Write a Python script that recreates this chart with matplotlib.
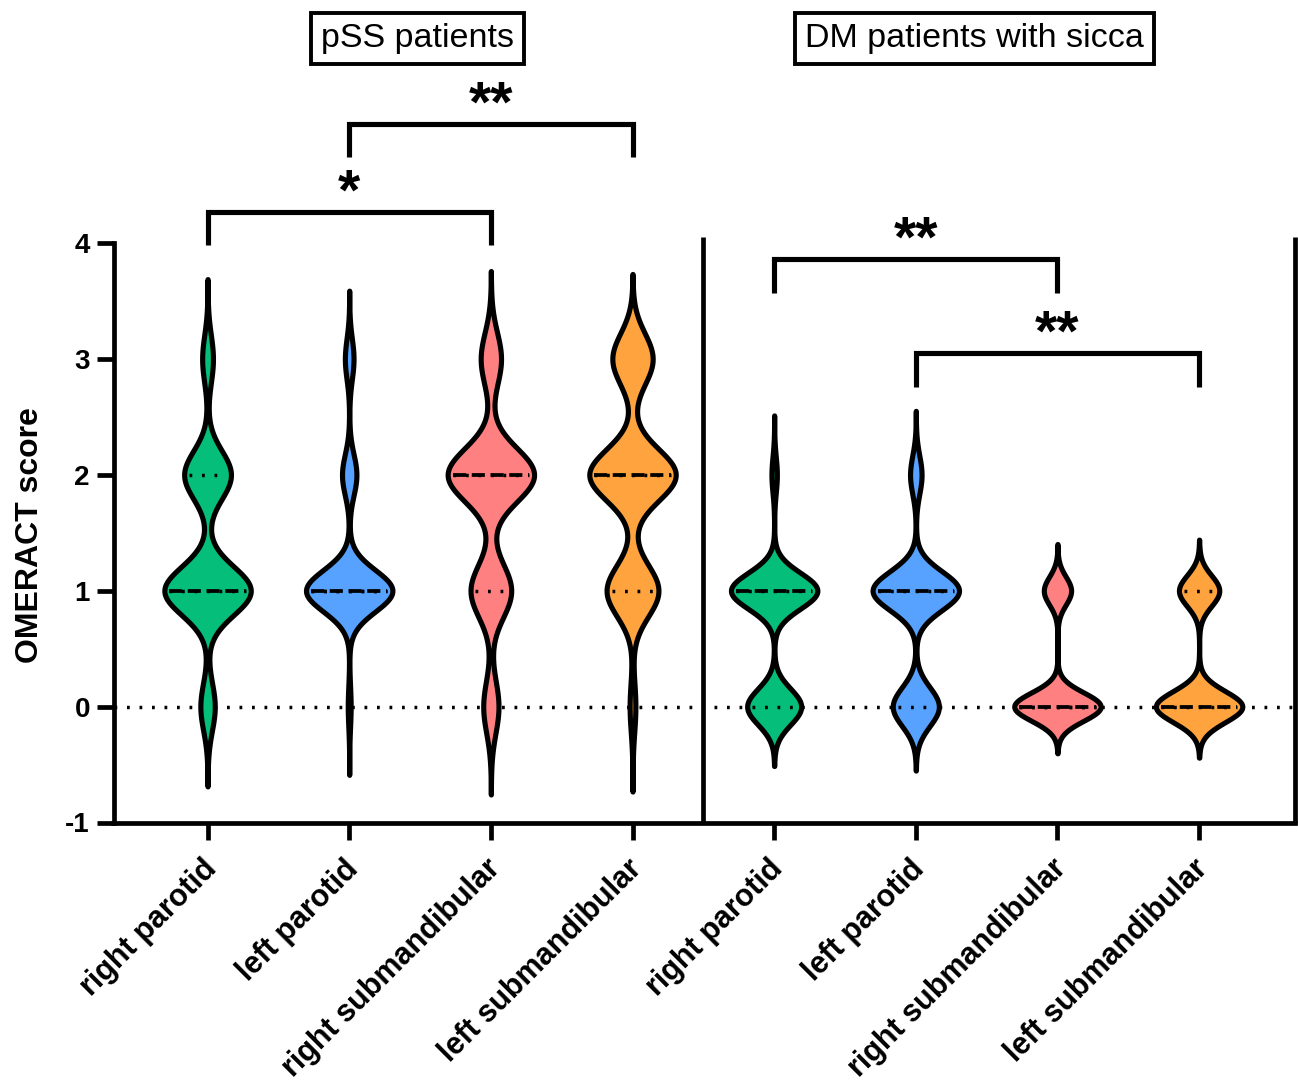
import numpy as np
import matplotlib
matplotlib.use('Agg')
import matplotlib.pyplot as plt
import matplotlib.transforms as mtransforms
from matplotlib import mlab

plt.rcParams['font.family'] = ['Liberation Sans', 'DejaVu Sans']
plt.rcParams['axes.unicode_minus'] = False

# OMERACT scores and the number of glands scored 0/1/2/3 in each group
scores = [0, 1, 2, 3]
glands = ['right parotid', 'left parotid', 'right submandibular', 'left submandibular']
pss_counts = [[4, 24, 13, 3],
              [1, 30, 5, 3],
              [3, 8, 17, 4],
              [1, 9, 15, 7]]
dm_counts = [[10, 16, 1, 0],
             [8, 15, 2, 0],
             [19, 6, 0, 0],
             [15, 7, 0, 0]]
colors = ['#04BE79', '#56A2FE', '#FE8081', '#FEA33E']
groups = ['pSS patients', 'DM patients with sicca']
# significance: (first gland, second gland, label)
sig_pairs = [(0, 2, '*'), (1, 3, '**'), (4, 6, '**'), (5, 7, '**')]

W = 1298
H = 1081
fig = plt.figure(figsize=(W / 100, H / 100), dpi=100)
ax = fig.add_axes([113.5 / W, 1 - 822.5 / H, (1295 - 113.5) / W, (822.5 - 243) / H])

all_counts = pss_counts + dm_counts
half = 0.305
bw = 0.28
stats = []
for c in all_counts:
    vals = np.repeat(scores, c).astype(float)
    kde = mlab.GaussianKDE(vals, bw_method=bw)
    h = bw * vals.std(ddof=1)
    coords = np.linspace(vals.min() - 3.3 * h, vals.max() + 3.3 * h, 600)
    stats.append(dict(coords=coords, vals=kde.evaluate(coords), mean=vals.mean(),
                      median=np.median(vals), min=vals.min(), max=vals.max(),
                      q=np.percentile(vals, [25, 50, 75])))

pos = np.arange(len(all_counts))
ax.axhline(0, color='black', lw=2.5, ls=(0, (0.8, 2.8)), zorder=0.5)
parts = ax.violin(stats, positions=pos, widths=2 * half, showmeans=False,
                  showextrema=False, showmedians=False)
for i, body in enumerate(parts['bodies']):
    body.set_facecolor(colors[i % 4])
    body.set_edgecolor('black')
    body.set_linewidth(3.7)
    body.set_alpha(1)
    body.set_zorder(2)

for p, s in zip(pos, stats):
    peak = s['vals'].max()
    q1, med, q3 = s['q']
    for qv in (q1, q3):
        w = np.interp(qv, s['coords'], s['vals']) / peak * half - 0.035
        ax.plot([p - w, p + w], [qv, qv], color='black', lw=2.5,
                ls=(0, (0.8, 2.8)), zorder=3)
    w = np.interp(med, s['coords'], s['vals']) / peak * half - 0.035
    ax.plot([p - w, p + w], [med, med], color='black', lw=2.7,
            ls=(0, (3.5, 1.5)), zorder=3)

# panel separators
for xv in (3.5, 7.677):
    ax.plot([xv, xv], [-1, 4.05], color='black', lw=3.4, clip_on=False,
            solid_capstyle='butt', zorder=4)

# significance brackets
levels = [4.27, 5.03, 3.86, 3.05]
for (a, b, lab), lv in zip(sig_pairs, levels):
    ax.plot([a, a, b, b], [lv - 0.29, lv, lv, lv - 0.29], color='black', lw=3.7,
            clip_on=False, solid_joinstyle='miter', solid_capstyle='butt')
    ax.text((a + b) / 2, lv + 0.02, lab, ha='center', va='baseline',
            fontsize=41, fontweight='bold', clip_on=False)

ax.set_xlim(-0.664, 7.677)
ax.set_ylim(-1, 4)
ax.set_yticks([-1, 0, 1, 2, 3, 4])
ax.set_xticks(pos)
ax.set_xticklabels(glands * 2, rotation=45, ha='right', va='top',
                   rotation_mode='anchor', fontsize=22, fontweight='bold')
for lab in ax.get_yticklabels():
    lab.set_fontweight('bold')
ax.tick_params(axis='y', labelsize=20, length=12, width=3.4, pad=5)
ax.tick_params(axis='x', length=12.5, width=3.4, pad=10)
offset = mtransforms.ScaledTranslation(-6 / 100, 0, fig.dpi_scale_trans)
for lab in ax.get_xticklabels():
    lab.set_transform(lab.get_transform() + offset)

for side in ('top', 'right'):
    ax.spines[side].set_visible(False)
for side in ('left', 'bottom'):
    ax.spines[side].set_linewidth(3.4)
ax.spines['bottom'].set_capstyle('projecting')

fig.text(30 / W, 1 - 535 / H, 'OMERACT score', rotation=90, ha='center',
         va='center', fontsize=23, fontweight='bold')

for name, xc in zip(groups, (417.5, 974.3)):
    fig.text(xc / W, 1 - 38.5 / H, name, ha='center', va='center', fontsize=24.5,
             bbox=dict(boxstyle='square,pad=0.3', facecolor='white',
                       edgecolor='black', lw=2.8))

fig.savefig('out.png', dpi=100)
